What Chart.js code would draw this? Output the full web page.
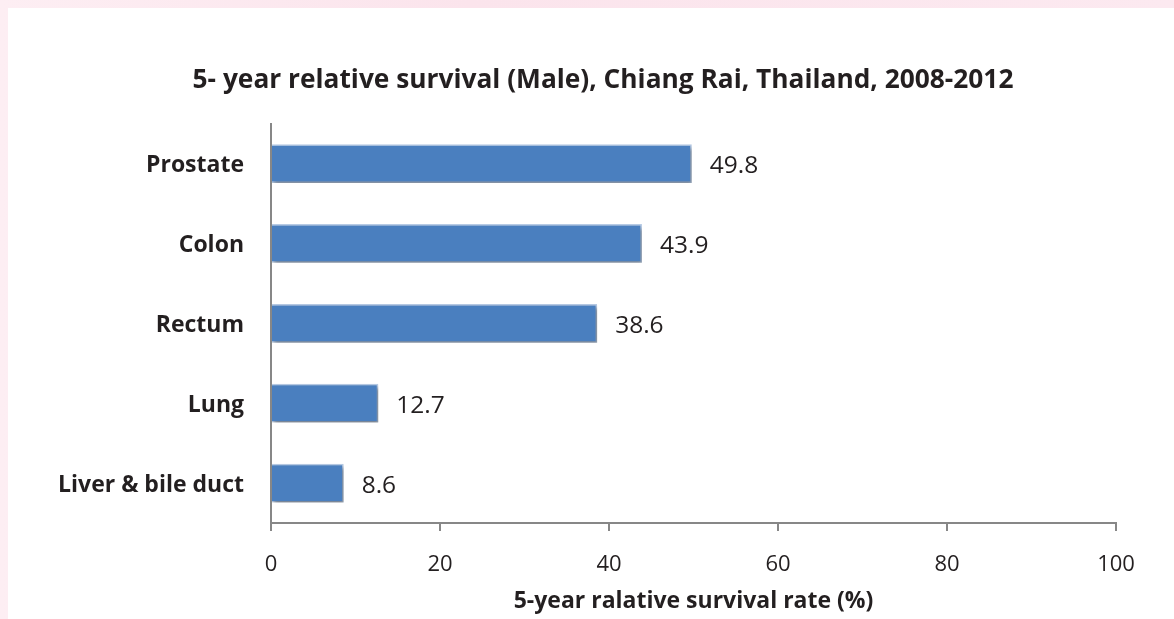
<!DOCTYPE html>
<html>
<head>
<meta charset="utf-8">
<script src="https://cdn.jsdelivr.net/npm/chart.js@4.4.1/dist/chart.umd.min.js"></script>
<style>
  html, body { margin: 0; padding: 0; }
  body {
    width: 1174px; height: 619px; overflow: hidden;
    background: linear-gradient(90deg, #fdeef3 0%, #fbe4ec 40%, #fce9f0 100%);
  }
  #wrap { position: absolute; left: 8px; top: 8px; width: 1166px; height: 611px; background: #fff; }
</style>
</head>
<body>
<div id="wrap"><canvas id="chart" width="1166" height="611"></canvas></div>
<script>
// data
const cancerSites = ['Prostate', 'Colon', 'Rectum', 'Lung', 'Liver & bile duct'];
const survivalRates = [49.8, 43.9, 38.6, 12.7, 8.6];
const xTickValues = [0, 20, 40, 60, 80, 100];

const chartTitle = '5- year relative survival (Male), Chiang Rai, Thailand, 2008-2012';
const xAxisTitle = '5-year ralative survival rate (%)';

const FONT = "'Open Sans', 'Liberation Sans', sans-serif";
const TEXT = '#231f20';
const AXIS = '#878787';

// soft drop shadow under the bars
const barShadow = {
  id: 'barShadow',
  beforeDatasetsDraw(chart) {
    const ctx = chart.ctx;
    ctx.save();
    ctx.shadowColor = 'rgba(0,0,0,0.38)';
    ctx.shadowBlur = 4;
    ctx.shadowOffsetX = 2;
    ctx.shadowOffsetY = 3;
  },
  afterDatasetsDraw(chart) {
    chart.ctx.restore();
  }
};

// value labels to the right of each bar
const valueLabels = {
  id: 'valueLabels',
  afterDatasetsDraw(chart) {
    const ctx = chart.ctx;
    const meta = chart.getDatasetMeta(0);
    ctx.save();
    ctx.font = `24.5px ${FONT}`;
    ctx.fillStyle = TEXT;
    ctx.textAlign = 'left';
    ctx.textBaseline = 'middle';
    meta.data.forEach((bar, i) => {
      ctx.fillText(survivalRates[i].toFixed(1), bar.x + 18, bar.y + 3);
    });
    ctx.restore();
  }
};

new Chart(document.getElementById('chart'), {
  type: 'bar',
  data: {
    labels: cancerSites,
    datasets: [{
      data: survivalRates,
      backgroundColor: '#4a7fbf',
      borderColor: '#b8cce6',
      borderWidth: 1.5,
      barPercentage: 0.97,
      categoryPercentage: 0.5
    }]
  },
  options: {
    indexAxis: 'y',
    responsive: false,
    animation: false,
    layout: { padding: { left: 40, right: 16, top: 0, bottom: 0 } },
    scales: {
      x: {
        min: 0,
        max: 100,
        afterBuildTicks: axis => { axis.ticks = xTickValues.map(v => ({ value: v })); },
        afterFit: axis => { axis.height = 96; },
        grid: { drawOnChartArea: false, drawTicks: true, tickLength: 8, color: AXIS, lineWidth: 2 },
        border: { color: AXIS, width: 2 },
        ticks: { color: TEXT, padding: 21, font: { family: FONT, size: 22 } },
        title: {
          display: true, text: xAxisTitle, color: TEXT,
          padding: { top: 0, bottom: 4 },
          font: { family: FONT, size: 23, weight: 'bold' }
        }
      },
      y: {
        afterFit: axis => { axis.width = 223; },
        grid: { display: false, drawTicks: false },
        border: { color: AXIS, width: 2 },
        ticks: { color: TEXT, padding: 27, labelOffset: 2, font: { family: FONT, size: 23, weight: 'bold' } }
      },
      // empty spacer on the right so the title centres like the reference
      spacer: {
        type: 'linear',
        position: 'right',
        afterFit: axis => { axis.width = 42; },
        grid: { display: false },
        border: { display: false },
        ticks: { display: false }
      }
    },
    plugins: {
      legend: { display: false },
      tooltip: { enabled: false },
      title: {
        display: true, text: chartTitle, color: TEXT,
        padding: { top: 57, bottom: 27 },
        font: { family: FONT, size: 26.3, weight: 'bold' }
      }
    }
  },
  plugins: [barShadow, valueLabels]
});
</script>
</body>
</html>
